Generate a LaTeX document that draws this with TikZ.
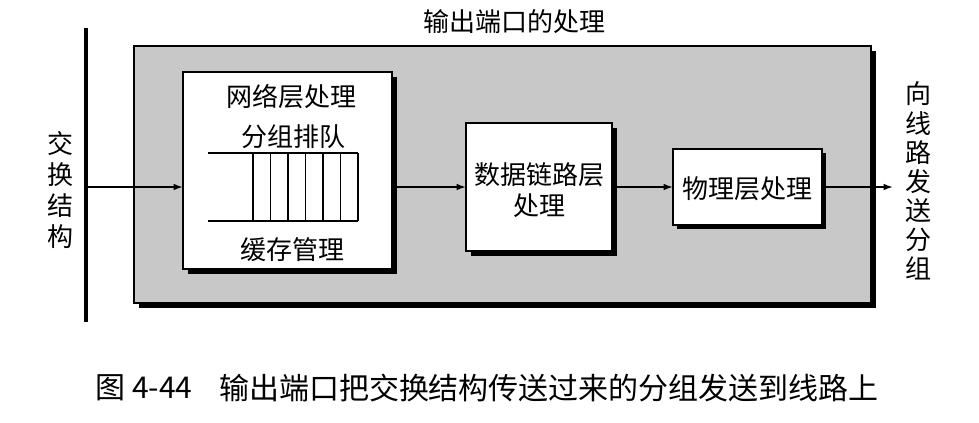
\documentclass[tikz,border=0pt]{standalone}
\usepackage{fontspec}
\newfontfamily\cjk{Noto Sans CJK SC}
\usetikzlibrary{arrows.meta}
\definecolor{panelgray}{RGB}{200,200,200}
\tikzset{
  every node/.style={inner sep=0pt, outer sep=0pt},
  lbl/.style={font={\cjk\fontsize{19.5}{23}\selectfont}, align=center},
  captext/.style={font={\cjk\fontsize{22.5}{27}\selectfont}},
  wbox/.style={draw=black, line width=1pt, fill=white},
  shadowbox/.style={fill=black},
  conn/.style={line width=1.3pt, -{Latex[length=7pt,width=5pt]}},
  qline/.style={line width=1pt}
}
\begin{document}
\begin{tikzpicture}[x=0.75pt,y=-0.75pt]
\useasboundingbox (0,0) rectangle (979,422);
% title
\node[lbl] (title) at (514,22) {输出端口的处理};
% switching fabric bar
\draw[line width=3pt] (86,28) -- (86,322);
\coordinate (src) at (86,187);
% gray panel
\fill[shadowbox] (139,51) rectangle (876,308);
\draw[fill=panelgray, line width=0.8pt] (134,46) rectangle (871,303);
% network layer box
\fill[shadowbox] (188,77) rectangle (397,274);
\node[wbox, minimum width=209*0.75pt, minimum height=197*0.75pt] (net) at (287.5,170.5) {};
\node[lbl] (nettxt) at (291,97) {网络层处理};
\node[lbl] (queuetxt) at (293,137) {分组排队};
\node[lbl] (buftxt) at (292,250) {缓存管理};
\draw[qline] (208,153) -- (358,153);
\draw[qline] (208,221) -- (358,221);
\foreach \x in {253,270.5,288,305.5,323,340.5,358} {
  \draw[qline] (\x,153) -- (\x,221);
}
% data link box
\fill[shadowbox] (471,128) rectangle (617,256);
\node[wbox, minimum width=146*0.75pt, minimum height=128*0.75pt] (dl) at (539,187) {};
\node[lbl] (dltxt) at (539,190) {数据链路层\\处理};
% physical box
\fill[shadowbox] (677,153) rectangle (826,229);
\node[wbox, minimum width=149*0.75pt, minimum height=76*0.75pt] (phy) at (747.5,187) {};
\node[lbl] (phytxt) at (747,189) {物理层处理};
\coordinate (out) at (893,187);
% connectors
\draw[conn] (src) -- (src -| net.west);
\draw[conn] (src -| net.east) -- (dl.west);
\draw[conn] (dl.east) -- (phy.west);
\draw[conn] (phy.east) -- (out);
% side labels
\node[lbl, font={\cjk\fontsize{19.5}{23.3}\selectfont}] (fabric) at (60,190) {交\\换\\结\\构};
\node[lbl, font={\cjk\fontsize{19.5}{21.8}\selectfont}] (line) at (918,181) {向\\线\\路\\发\\送\\分\\组};
% caption
\node[captext] (capnum) at (144,388) {图 4-44};
\node[captext] (captxt) at (549,388) {输出端口把交换结构传送过来的分组发送到线路上};
\end{tikzpicture}
\end{document}
